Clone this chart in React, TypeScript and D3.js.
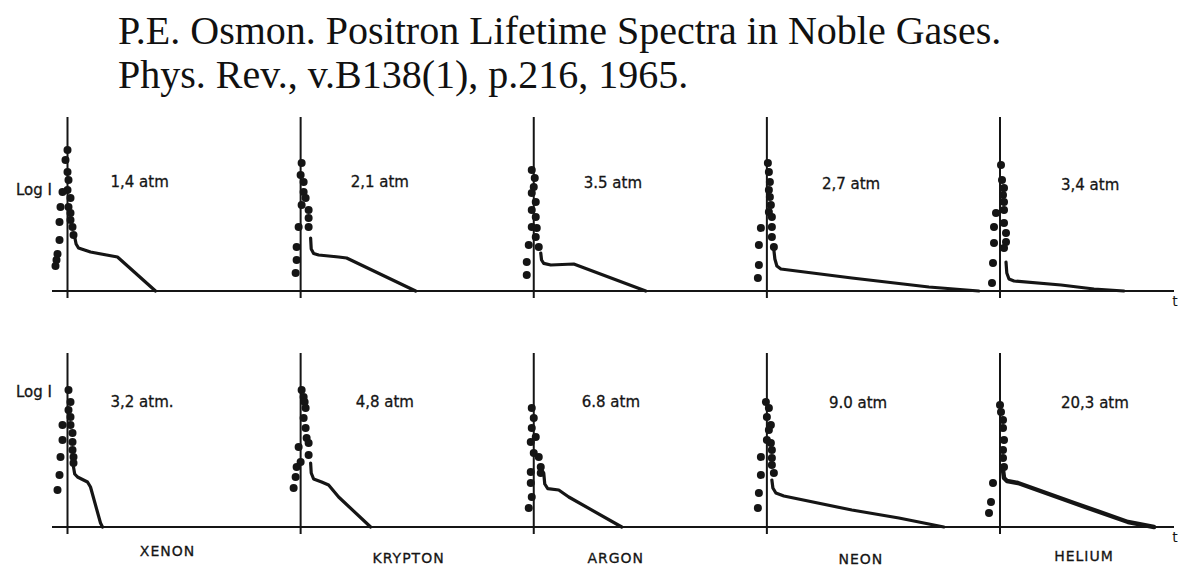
import React from "react";
import * as d3 from "d3";

const W = 1178;
const H = 568;

const gases = ["XENON", "KRYPTON", "ARGON", "NEON", "HELIUM"];
const pressuresLow = ["1,4 atm", "2,1 atm", "3.5 atm", "2,7 atm", "3,4 atm"];
const pressuresHigh = ["3,2 atm.", "4,8 atm", "6.8 atm", "9.0 atm", "20,3 atm"];

// [t, log I]; dots = prompt peak, tail = long-lived component
const dotsLow = [
  [[0, 7.05], [-1, 6.55], [0, 5.95], [0.5, 5.55], [0, 5.05], [1.5, 4.65], [0.5, 4.2], [1.5, 3.9], [1.5, 3.55], [2.5, 3.2], [3, 2.8], [-2.5, 4.95], [-3.5, 4.2], [-4, 3.45], [-4, 2.55], [-5, 1.85], [-5.5, 1.55], [-6, 1.25]],
  [[0.5, 6.4], [0, 5.8], [1.5, 5.45], [1.5, 4.95], [2.5, 4.65], [0.5, 4.3], [4, 4.05], [4, 3.65], [4, 3.2], [-1, 3.2], [-2, 2.2], [-2, 1.55], [-2.5, 0.9]],
  [[-1, 6.05], [0.5, 5.65], [0, 5.2], [-1, 4.9], [1, 4.45], [-1, 4.05], [1, 3.7], [-1, 3.2], [1.5, 3.15], [1, 2.7], [-2.5, 2.3], [2.5, 2.2], [-3.5, 1.45], [-3.5, 0.8]],
  [[0.5, 6.4], [1, 5.95], [1.5, 5.45], [1, 5.05], [1.5, 4.7], [2, 4.3], [1, 3.95], [2.5, 3.7], [-3, 3.15], [2.5, 3.2], [-4, 2.3], [2.5, 2.7], [3.5, 2.2], [-4, 1.3], [-4.5, 0.65]],
  [[0.5, 6.3], [1, 5.55], [2, 5.15], [1.5, 4.8], [2, 4.45], [-2, 3.9], [2, 4.05], [2, 3.4], [-3, 3.2], [3, 2.9], [-3, 2.4], [3, 2.45], [2, 2.15], [-3.5, 1.4], [-4, 0.4]],
];
const tailLow = [
  [[3.5, 2.75], [4.3, 2.35], [5.5, 2.15], [11.5, 1.95], [25, 1.7], [44, 0]],
  [[5, 2.65], [5.3, 2.1], [6.5, 1.88], [9, 1.8], [19, 1.7], [23, 1.65], [57.5, 0]],
  [[3.5, 1.9], [3.9, 1.55], [5, 1.38], [8.5, 1.3], [20, 1.35], [56, 0]],
  [[3.5, 2.05], [4, 1.6], [5, 1.25], [7, 1.1], [42.5, 0.65], [81, 0.2], [106, 0]],
  [[3, 1.45], [3.4, 0.9], [4.5, 0.6], [7, 0.5], [30.5, 0.3], [47, 0.1], [62, 0]],
];
const dotsHigh = [
  [[0.5, 6.85], [1.5, 6.25], [0.5, 5.85], [1.5, 5.5], [-2.5, 5.1], [1.5, 5.1], [-2.5, 4.35], [2.5, 4.7], [2.5, 4.25], [2.5, 3.85], [-3.5, 3.5], [3, 3.5], [3, 3.2], [-4, 2.6], [-5, 1.85]],
  [[0.5, 6.85], [1.5, 6.5], [2, 6.25], [2.5, 5.95], [1.5, 5.45], [2.5, 4.95], [3, 4.45], [4, 4.2], [-1, 4.0], [4, 3.6], [0, 3.25], [-2, 3.0], [-2.5, 2.5], [-3.5, 1.95]],
  [[-1, 5.95], [0, 5.45], [-1, 4.95], [1, 4.5], [-1.5, 4.25], [0, 3.7], [2.5, 3.5], [3.5, 3.0], [-1.5, 2.75], [3.5, 2.7], [-1.5, 2.2], [-1, 1.5], [-2.5, 0.95]],
  [[-0.5, 6.25], [1, 5.95], [0, 5.5], [2, 5.1], [1, 4.85], [0, 4.35], [2, 4.2], [2.5, 3.85], [-3, 3.5], [2.5, 3.45], [2.5, 3.1], [3.5, 2.7], [-3, 2.6], [-4, 1.7], [-4.5, 0.95]],
  [[0, 6.1], [0.5, 5.75], [1.5, 5.35], [1.5, 4.95], [2, 4.35], [1.5, 3.85], [1.5, 3.45], [2, 3.0], [-3.5, 2.2], [-4.5, 1.25], [-5.5, 0.7]],
];
const tailHigh = [
  [[3, 3.0], [3.6, 2.65], [5, 2.5], [8, 2.35], [10, 2.25], [11.5, 2.0], [16.5, 0.2], [17.5, 0]],
  [[5, 3.2], [5.3, 2.7], [6.5, 2.4], [10.5, 2.25], [14, 2.1], [19, 1.5], [35, 0]],
  [[5, 2.7], [5.5, 2.15], [7, 1.92], [12.5, 1.85], [17.5, 1.5], [44, 0]],
  [[2.5, 2.35], [3, 1.95], [4.5, 1.7], [8.5, 1.55], [42.5, 0.85], [66, 0.45], [88.5, 0]],
  [[1.5, 2.85], [2, 2.45], [3.5, 2.3], [9, 2.2], [37, 1.2], [64, 0.25], [77, 0]],
];

// label placement (px from each panel's axis)
const atmDxLow = [43, 50, 50, 55, 61];
const atmDxHigh = [43, 55, 48, 62, 61];
const nameDx = [100, 108, 82, 94, 84];

const INK = "#151515";
const sans = "'DejaVu Sans', sans-serif";

const col = d3.scalePoint<string>().domain(gases).range([67.5, 1000]);
const tx = d3.scaleLinear().domain([0, 100]).range([0, 200]);

function Row({ base, dots, tails, labels, atmDx, atmY, logY, names }: any) {
  const y = d3.scaleLinear().domain([0, 8.6]).range([base, base - 172]);
  const top = base - 172;
  return (
    <g>
      <line x1={52} x2={1174} y1={base} y2={base} stroke={INK} strokeWidth={2} />
      <text x={1175} y={base + 15} fontFamily={sans} fontSize={14} fill={INK} textAnchor="middle">t</text>
      <text x={16} y={logY} fontFamily={sans} fontSize={15} fill={INK} stroke={INK} strokeWidth={0.3}>Log I</text>
      {gases.map((g, i) => {
        const x0 = col(g)!;
        const line = d3
          .line<number[]>()
          .x((d) => x0 + tx(d[0]))
          .y((d) => y(d[1]));
        return (
          <g key={g}>
            <line x1={x0} x2={x0} y1={top - 2} y2={base + 7} stroke={INK} strokeWidth={2} />
            <path d={line(tails[i]) || ""} fill="none" stroke={INK} strokeWidth={i === 4 && names ? 4.5 : 3.2} strokeLinejoin="round" strokeLinecap="round" />
            {dots[i].map((d: number[], k: number) => (
              <circle key={k} cx={x0 + tx(d[0])} cy={y(d[1])} r={4} fill={INK} />
            ))}
            <text x={x0 + atmDx[i]} y={atmY[i]} fontFamily={sans} fontSize={15} fill={INK} stroke={INK} strokeWidth={0.3}>
              {labels[i]}
            </text>
            {names && (
              <text x={x0 + nameDx[i]} y={names[i]} fontFamily={sans} fontSize={14} letterSpacing={1} fill={INK} stroke={INK} strokeWidth={0.3} textAnchor="middle">
                {g}
              </text>
            )}
          </g>
        );
      })}
    </g>
  );
}

export default function App() {
  return (
    <svg width={W} height={H} style={{ position: "absolute", left: 0, top: 0, background: "#fff" }}>
      <g fontFamily="'Liberation Serif', 'Times New Roman', serif" fontSize={40} fill="#111">
        <text x={118} y={44}>P.E. Osmon. Positron Lifetime Spectra in Noble Gases.</text>
        <text x={118} y={88}>Phys. Rev., v.B138(1), p.216, 1965.</text>
      </g>
      <Row
        base={291}
        dots={dotsLow}
        tails={tailLow}
        labels={pressuresLow}
        atmDx={atmDxLow}
        atmY={[187, 187, 188, 189, 190]}
        logY={195}
      />
      <Row
        base={527}
        dots={dotsHigh}
        tails={tailHigh}
        labels={pressuresHigh}
        atmDx={atmDxHigh}
        atmY={[407, 407, 407, 408, 408]}
        logY={397}
        names={[556, 563, 563, 564, 561]}
      />
    </svg>
  );
}
